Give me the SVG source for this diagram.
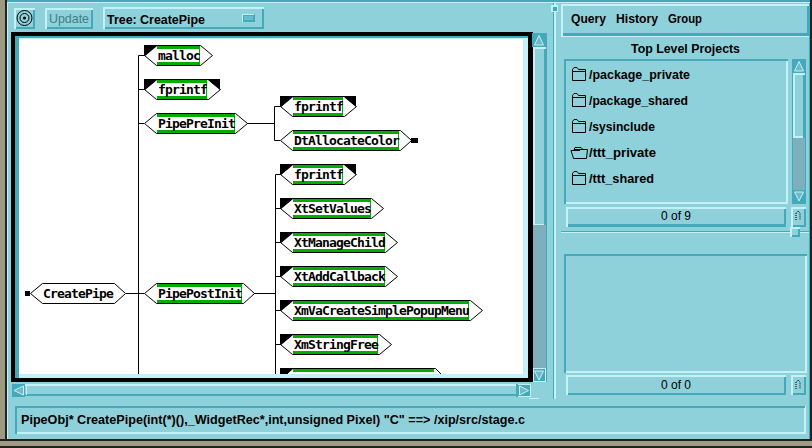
<svg xmlns="http://www.w3.org/2000/svg" width="812" height="448" viewBox="0 0 812 448">
<style>
.mono{font-family:"DejaVu Sans Mono","Liberation Mono",monospace;font-size:13px;letter-spacing:-.83px;font-weight:bold;fill:#000}
.ui{font-family:"Liberation Sans",Arial,sans-serif;font-size:12.5px;font-weight:bold;fill:#000}
.cnt{font-family:"Liberation Sans",Arial,sans-serif;font-size:12px;fill:#000;text-anchor:middle}
.hex{fill:#fff;stroke:#000;stroke-width:1}
.g{fill:#00ad00}
.w{fill:#fff}
.k{fill:#000}
.c{stroke:#000;stroke-width:1;fill:none}
.bg{fill:#8ed1db}
.d{fill:#46a9bb}
.l{fill:#c4f1f5}
.t{fill:#7db0bc}
.folder{fill:none;stroke:#000;stroke-width:1}
.a{fill:#6fb9c8;stroke:#c4f1f5;stroke-width:1}
</style>
<defs>
<g id="fold"><path class="folder" d="M.5 4.500V13.500H13.500V2.500H6.500L5 .5H2L.5 2.500V4.500H13.500"/></g>
</defs>
<rect width="812" height="448" class="bg"/>
<g id="window-frame">
<rect x="0" y="0" width="812" height="2" class="d"/>
<rect x="0" y="2" width="812" height="1" class="l"/>
<rect x="0" y="0" width="5" height="440" fill="#9c9a80"/>
<rect x="5" y="0" width="2" height="441" fill="#222"/>
<rect x="7" y="3" width="1" height="436" class="l"/>
<rect x="809" y="3" width="1" height="436" class="d"/>
<rect x="810" y="0" width="2" height="441" fill="#222"/>
<rect x="0" y="439" width="812" height="2" fill="#222"/>
<rect x="0" y="441" width="812" height="5" fill="#a09c84"/>
<rect x="0" y="446" width="812" height="2" fill="#222"/>
</g>
<g id="toolbar">
<g id="icon-button">
<rect x="14" y="8" width="21" height="21" class="d"/>
<path d="M14 8H35V10H16V29H14Z" class="l"/>
<rect x="16" y="10" width="17" height="17" class="bg"/>
<circle cx="24.500" cy="18" r="7.500" fill="none" stroke="#000" stroke-width="1"/>
<circle cx="24.500" cy="18" r="4.500" fill="none" stroke="#000" stroke-width="1"/>
<circle cx="24.500" cy="18" r="1.500" class="k"/>
</g>
<g id="update-button">
<rect x="45" y="8" width="48" height="21" class="d"/>
<path d="M45 8H93V10H47V29H45Z" class="l"/>
<rect x="47" y="10" width="44" height="17" class="bg"/>
<text x="49" y="23" class="ui" textLength="40" lengthAdjust="spacingAndGlyphs" style="font-size:13px;font-weight:normal;fill:#3f7f88">Update</text>
</g>
<g id="tree-selector">
<rect x="103" y="7" width="161" height="22" class="d"/>
<path d="M103 7H264V9H105V29H103Z" class="l"/>
<rect x="105" y="9" width="157" height="18" class="bg"/>
<text x="107" y="24" class="ui" textLength="98" lengthAdjust="spacingAndGlyphs">Tree: CreatePipe</text>
<rect x="242" y="14" width="13" height="8" class="d"/>
<path d="M242 14H254V15H243V22H242Z" class="l"/>
<rect x="244" y="16" width="9" height="4" fill="#69bccb"/>
</g>
</g>
<g id="canvas-frame">
<rect x="11" y="32" width="522" height="350" class="k"/>
<rect x="15" y="36" width="513" height="342" class="l"/>
<path d="M15 36H528V38H19V378H15Z" class="d"/>
<rect x="19" y="39" width="504" height="335" class="w"/>
</g>
<g id="connectors">
<path class="c" d="M138.500 55.500V374M138.500 55.500H144M138.500 89.500H144M138.500 123.500H144M126 293.500H144"/>
<path class="c" d="M247 123.500H274.500M274.500 106.500V140.500M274.500 106.500H280M274.500 140.500H280"/>
<path class="c" d="M254 293.500H275.500M275.500 174.500V374M275.500 174.500H280M275.500 208.500H280M275.500 242.500H280M275.500 276.500H280M275.500 310.500H280M275.500 344.500H280"/>
</g>
<g id="node-CreatePipe">
<polygon class="hex" points="30.500,293.500 42.500,283.500 114.500,283.500 125.500,293.500 114.500,303.500 42.500,303.500"/>
<rect x="25" y="291" width="5" height="5" class="k"/>
<text x="43" y="298" class="mono">CreatePipe</text>
</g>
<g id="node-malloc">
<polygon class="hex" points="144.500,55.500 156.500,45.500 200.500,45.500 212.500,55.500 200.500,65.500 156.500,65.500"/>
<path class="k" d="M144 45H157V46L145 56H144Z"/>
<rect x="157" y="46" width="43" height="3" class="g"/><rect x="157" y="62" width="43" height="3" class="g"/><rect x="199" y="46" width="1" height="19" class="g"/>
<text x="158" y="60" class="mono">malloc</text>
</g>
<g id="node-fprintf-1">
<polygon class="hex" points="144.500,89.500 156.500,79.500 208.500,79.500 220.500,89.500 208.500,99.500 156.500,99.500"/>
<path class="k" d="M144 79H157V80L145 90H144ZM208 79H220V90L208 80Z"/>
<rect x="157" y="80" width="50" height="3" class="g"/><rect x="157" y="96" width="50" height="3" class="g"/><rect x="206" y="80" width="1" height="19" class="g"/>
<text x="158" y="94" class="mono">fprintf</text>
</g>
<g id="node-PipePreInit">
<polygon class="hex" points="144.500,123.500 156.500,113.500 235.500,113.500 247.500,123.500 235.500,133.500 156.500,133.500"/>
<rect x="157" y="114" width="78" height="3" class="g"/><rect x="157" y="130" width="78" height="3" class="g"/><rect x="234" y="114" width="1" height="19" class="g"/>
<text x="158" y="128" class="mono">PipePreInit</text>
</g>
<g id="node-PipePostInit">
<polygon class="hex" points="144.500,293.500 156.500,283.500 243.500,283.500 254.500,293.500 243.500,303.500 156.500,303.500"/>
<rect x="157" y="284" width="85" height="3" class="g"/><rect x="157" y="300" width="85" height="3" class="g"/><rect x="241" y="284" width="1" height="19" class="g"/>
<text x="158" y="298" class="mono">PipePostInit</text>
</g>
<g id="node-fprintf-2">
<polygon class="hex" points="280.500,106.500 292.500,96.500 344.500,96.500 356.500,106.500 344.500,116.500 292.500,116.500"/>
<path class="k" d="M280 96H293V97L281 107H280ZM344 96H356V107L344 97Z"/>
<rect x="293" y="97" width="50" height="3" class="g"/><rect x="293" y="113" width="50" height="3" class="g"/><rect x="342" y="97" width="1" height="19" class="g"/>
<text x="294" y="111" class="mono">fprintf</text>
</g>
<g id="node-DtAllocateColor">
<polygon class="hex" points="280.500,140.500 292.500,130.500 400.500,130.500 411.500,140.500 400.500,150.500 292.500,150.500"/>
<rect x="411" y="138" width="7" height="5" class="k"/>
<rect x="293" y="131" width="106" height="3" class="g"/><rect x="293" y="147" width="106" height="3" class="g"/><rect x="398" y="131" width="1" height="19" class="g"/>
<text x="294" y="145" class="mono">DtAllocateColor</text>
</g>
<g id="node-fprintf-3">
<polygon class="hex" points="280.500,174.500 292.500,164.500 344.500,164.500 356.500,174.500 344.500,184.500 292.500,184.500"/>
<path class="k" d="M280 164H293V165L281 175H280ZM344 164H356V175L344 165Z"/>
<rect x="293" y="165" width="50" height="3" class="g"/><rect x="293" y="181" width="50" height="3" class="g"/><rect x="342" y="165" width="1" height="19" class="g"/>
<text x="294" y="179" class="mono">fprintf</text>
</g>
<g id="node-XtSetValues">
<polygon class="hex" points="280.500,208.500 292.500,198.500 371.500,198.500 383.500,208.500 371.500,218.500 292.500,218.500"/>
<path class="k" d="M280 198H293V199L281 209H280Z"/>
<rect x="293" y="199" width="78" height="3" class="g"/><rect x="293" y="215" width="78" height="3" class="g"/><rect x="370" y="199" width="1" height="19" class="g"/>
<text x="294" y="213" class="mono">XtSetValues</text>
</g>
<g id="node-XtManageChild">
<polygon class="hex" points="280.500,242.500 292.500,232.500 385.500,232.500 397.500,242.500 385.500,252.500 292.500,252.500"/>
<path class="k" d="M280 232H293V233L281 243H280Z"/>
<rect x="293" y="233" width="92" height="3" class="g"/><rect x="293" y="249" width="92" height="3" class="g"/><rect x="384" y="233" width="1" height="19" class="g"/>
<text x="294" y="247" class="mono">XtManageChild</text>
</g>
<g id="node-XtAddCallback">
<polygon class="hex" points="280.500,276.500 292.500,266.500 385.500,266.500 397.500,276.500 385.500,286.500 292.500,286.500"/>
<path class="k" d="M280 266H293V267L281 277H280Z"/>
<rect x="293" y="267" width="92" height="3" class="g"/><rect x="293" y="283" width="92" height="3" class="g"/><rect x="384" y="267" width="1" height="19" class="g"/>
<text x="294" y="281" class="mono">XtAddCallback</text>
</g>
<g id="node-XmVaCreateSimplePopupMenu">
<polygon class="hex" points="280.500,310.500 292.500,300.500 470.500,300.500 482.500,310.500 470.500,320.500 292.500,320.500"/>
<path class="k" d="M280 300H293V301L281 311H280Z"/>
<rect x="293" y="301" width="176" height="3" class="g"/><rect x="293" y="317" width="176" height="3" class="g"/><rect x="468" y="301" width="1" height="19" class="g"/>
<text x="294" y="315" class="mono">XmVaCreateSimplePopupMenu</text>
</g>
<g id="node-XmStringFree">
<polygon class="hex" points="280.500,344.500 292.500,334.500 379.500,334.500 391.500,344.500 379.500,354.500 292.500,354.500"/>
<path class="k" d="M280 334H293V335L281 345H280Z"/>
<rect x="293" y="335" width="85" height="3" class="g"/><rect x="293" y="351" width="85" height="3" class="g"/><rect x="377" y="335" width="1" height="19" class="g"/>
<text x="294" y="349" class="mono">XmStringFree</text>
</g>
<g id="node-clipped">
<path class="c" d="M287 374L292.500 368.500H435.500L441 374"/>
<path class="k" d="M280 368H293V369L287 374H280Z"/>
<rect x="293" y="369" width="141" height="3" class="g"/>
</g>
<g id="vertical-scrollbar">
<rect x="533" y="225" width="13" height="145" class="t"/>
<rect x="532" y="33" width="14" height="14" class="d"/>
<polygon points="539,35.500 543.500,45 534.500,45" class="a"/>
<rect x="533" y="47" width="13" height="178" class="l"/>
<rect x="535" y="49" width="9" height="175" class="bg"/>
<rect x="544" y="49" width="2" height="176" class="d"/>
<rect x="533" y="368" width="13" height="14" class="l"/>
<rect x="534" y="369" width="11" height="12" class="d"/>
<polygon points="539,380 543.500,371 534.500,371" class="a"/>
<rect x="546" y="33" width="1" height="349" class="d"/>
</g>
<g id="horizontal-scrollbar">
<rect x="12" y="384" width="519" height="2" class="l"/>
<rect x="12" y="394" width="519" height="2" class="d"/>
<rect x="12" y="384" width="13" height="13" class="d"/>
<polygon points="14,390.500 23.500,386 23.500,395" class="a"/>
<rect x="26" y="385" width="1" height="10" class="l"/>
<rect x="516" y="384" width="2" height="13" class="d"/>
<rect x="518" y="384" width="13" height="13" class="l"/>
<rect x="518" y="385" width="12" height="11" class="d"/>
<polygon points="528.500,390.500 519.500,386 519.500,395" class="a"/>
<rect x="529" y="398" width="10" height="1" class="l"/>
</g>
<g id="separator">
<rect x="553" y="3" width="1" height="396" class="d"/>
<rect x="554" y="3" width="2" height="396" class="l"/>
<rect x="551" y="5" width="7" height="7" class="l"/>
<rect x="553" y="7" width="4" height="4" class="d"/>
</g>
<g id="menu-bar">
<rect x="561" y="4" width="248" height="32" class="d"/>
<path d="M561 4H809V6H563V36H561Z" class="l"/>
<rect x="563" y="6" width="244" height="27" class="bg"/>
<text x="571" y="23" class="ui" textLength="35" lengthAdjust="spacingAndGlyphs">Query</text>
<text x="616" y="23" class="ui" textLength="42" lengthAdjust="spacingAndGlyphs">History</text>
<text x="668" y="23" class="ui" textLength="34" lengthAdjust="spacingAndGlyphs">Group</text>
<rect x="561" y="36" width="248" height="1" class="l"/>
<text x="631" y="53" class="ui" textLength="109" lengthAdjust="spacingAndGlyphs">Top Level Projects</text>
</g>
<g id="project-list">
<rect x="564" y="59" width="224" height="145" class="l"/>
<path d="M564 59H788V61H566V204H564Z" class="d"/>
<rect x="566" y="61" width="220" height="141" class="bg"/>
<use href="#fold" x="572" y="67"/>
<text x="589" y="79" class="ui" textLength="101" lengthAdjust="spacingAndGlyphs">/package_private</text>
<use href="#fold" x="572" y="93"/>
<text x="589" y="105" class="ui" textLength="99" lengthAdjust="spacingAndGlyphs">/package_shared</text>
<use href="#fold" x="572" y="119"/>
<text x="589" y="131" class="ui" textLength="66" lengthAdjust="spacingAndGlyphs">/sysinclude</text>
<path class="folder" d="M573.500 158.500H586.500L587.500 149.500H574M571 150.500L573.500 158.500M571 150.500H580M575 147.500H581L583 149.500M575 147.500L574 149.500"/>
<text x="589" y="157" class="ui" textLength="67" lengthAdjust="spacingAndGlyphs">/ttt_private</text>
<use href="#fold" x="572" y="171"/>
<text x="589" y="183" class="ui" textLength="65" lengthAdjust="spacingAndGlyphs">/ttt_shared</text>
</g>
<g id="project-scrollbar">
<rect x="792" y="59" width="14" height="145" class="d"/>
<polygon points="799,61.500 803.500,71 794.500,71" class="a"/>
<rect x="793" y="73" width="12" height="65" class="l"/>
<rect x="795" y="75" width="8" height="61" class="bg"/>
<rect x="803" y="75" width="2" height="63" class="d"/>
<rect x="793" y="138" width="12" height="52" class="t"/>
<polygon points="799,201 803.500,192 794.500,192" class="a"/>
</g>
<g id="counter-top">
<rect x="566" y="207" width="220" height="20" class="d"/>
<path d="M566 207H786V209H568V227H566Z" class="l"/>
<rect x="568" y="209" width="216" height="15" class="bg"/>
<text x="676" y="220" class="cnt">0 of 9</text>
<rect x="791" y="207" width="15" height="20" class="d"/>
<path d="M791 207H806V209H793V227H791Z" class="l"/>
<rect x="793" y="209" width="11" height="16" class="bg"/>
<path d="M796 220V213L798 211L800 213V220" fill="none" stroke="#000" stroke-dasharray="1 1"/>
</g>
<g id="sash">
<rect x="561" y="231" width="248" height="1" class="d"/>
<rect x="561" y="232" width="248" height="1" class="l"/>
<rect x="790" y="227" width="10" height="10" class="l"/>
<rect x="792" y="229" width="8" height="8" class="d"/>
<rect x="792" y="229" width="6" height="6" class="bg"/>
</g>
<g id="lower-list">
<rect x="564" y="254" width="243" height="119" class="l"/>
<path d="M564 254H807V256H566V373H564Z" class="d"/>
<rect x="566" y="256" width="239" height="115" class="bg"/>
</g>
<g id="counter-bottom">
<rect x="566" y="375" width="220" height="20" class="d"/>
<path d="M566 375H786V377H568V395H566Z" class="l"/>
<rect x="568" y="377" width="216" height="16" class="bg"/>
<text x="676" y="389" class="cnt">0 of 0</text>
<rect x="791" y="375" width="15" height="20" class="d"/>
<path d="M791 375H806V377H793V395H791Z" class="l"/>
<rect x="793" y="377" width="11" height="16" class="bg"/>
<path d="M796 389V382L798 380L800 382V389" fill="none" stroke="#000" stroke-dasharray="1 1"/>
</g>
<g id="status-bar">
<rect x="15" y="406" width="791" height="28" class="l"/>
<path d="M15 406H805V408H17V434H15Z" class="d"/>
<rect x="17" y="408" width="787" height="24" class="bg"/>
<text x="21" y="424" class="ui" textLength="504" lengthAdjust="spacingAndGlyphs">PipeObj* CreatePipe(int(*)(),_WidgetRec*,int,unsigned Pixel) "C" ==&gt; /xip/src/stage.c</text>
</g>
</svg>
